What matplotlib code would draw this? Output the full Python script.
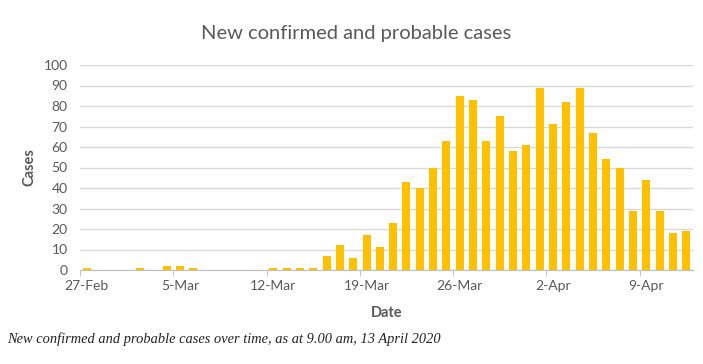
import numpy as np
import matplotlib.pyplot as plt

# daily new cases, 27-Feb to 12-Apr 2020
dates = ['27-Feb', '28-Feb', '29-Feb', '1-Mar', '2-Mar', '3-Mar', '4-Mar', '5-Mar',
         '6-Mar', '7-Mar', '8-Mar', '9-Mar', '10-Mar', '11-Mar', '12-Mar', '13-Mar',
         '14-Mar', '15-Mar', '16-Mar', '17-Mar', '18-Mar', '19-Mar', '20-Mar', '21-Mar',
         '22-Mar', '23-Mar', '24-Mar', '25-Mar', '26-Mar', '27-Mar', '28-Mar', '29-Mar',
         '30-Mar', '31-Mar', '1-Apr', '2-Apr', '3-Apr', '4-Apr', '5-Apr', '6-Apr',
         '7-Apr', '8-Apr', '9-Apr', '10-Apr', '11-Apr', '12-Apr']
cases = [1, 0, 0, 0, 1, 0, 2, 2,
         1, 0, 0, 0, 0, 0, 1, 1,
         1, 1, 7, 12, 6, 17, 11, 23,
         43, 40, 50, 63, 85, 83, 63, 75,
         58, 61, 89, 71, 82, 89, 67, 54,
         50, 29, 44, 29, 18, 19]

plt.rcParams['font.family'] = ['Lato', 'DejaVu Sans']
txt = '#595959'
x = np.arange(len(dates))

fig = plt.figure(figsize=(7.03, 3.64), dpi=100)
ax = fig.add_axes([80 / 703, 94 / 364, 613 / 703, 205 / 364])
ax.bar(x, cases, width=0.6, color='#FFC000', zorder=3)

ax.set_xlim(-0.5, len(dates) - 0.5)
ax.set_ylim(0, 100)
ax.set_yticks(range(0, 101, 10))
ax.grid(axis='y', color='#D9D9D9', linewidth=1, zorder=0)

# labels every 7 days, tick marks on category boundaries
ax.set_xticks(x[::7])
ax.set_xticklabels(dates[::7])
ax.set_xticks(np.arange(-0.5, len(dates), 7), minor=True)
ax.tick_params(axis='x', which='major', length=0, pad=7, labelsize=10, labelcolor=txt)
ax.tick_params(axis='x', which='minor', length=4, color='#BFBFBF', direction='out')
ax.tick_params(axis='y', length=0, pad=9, labelsize=10, labelcolor=txt)

for s in ['top', 'right', 'left']:
    ax.spines[s].set_visible(False)
ax.spines['bottom'].set_color('#BFBFBF')

ax.set_ylabel('Cases', fontsize=10.5, fontweight='bold', color=txt, labelpad=5)
ax.set_xlabel('Date', fontsize=10.5, fontweight='bold', color=txt, labelpad=10)

fig.text(356 / 703, 1 - 33 / 364, 'New confirmed and probable cases', ha='center',
         va='center', fontsize=14.5, color=txt)
fig.text(7 / 703, 1 - 339 / 364,
         'New confirmed and probable cases over time, as at 9.00 am, 13 April 2020',
         ha='left', va='center', fontsize=10.4, style='italic', family='Liberation Serif',
         color='#222222')

fig.savefig('out.png', dpi=100)
